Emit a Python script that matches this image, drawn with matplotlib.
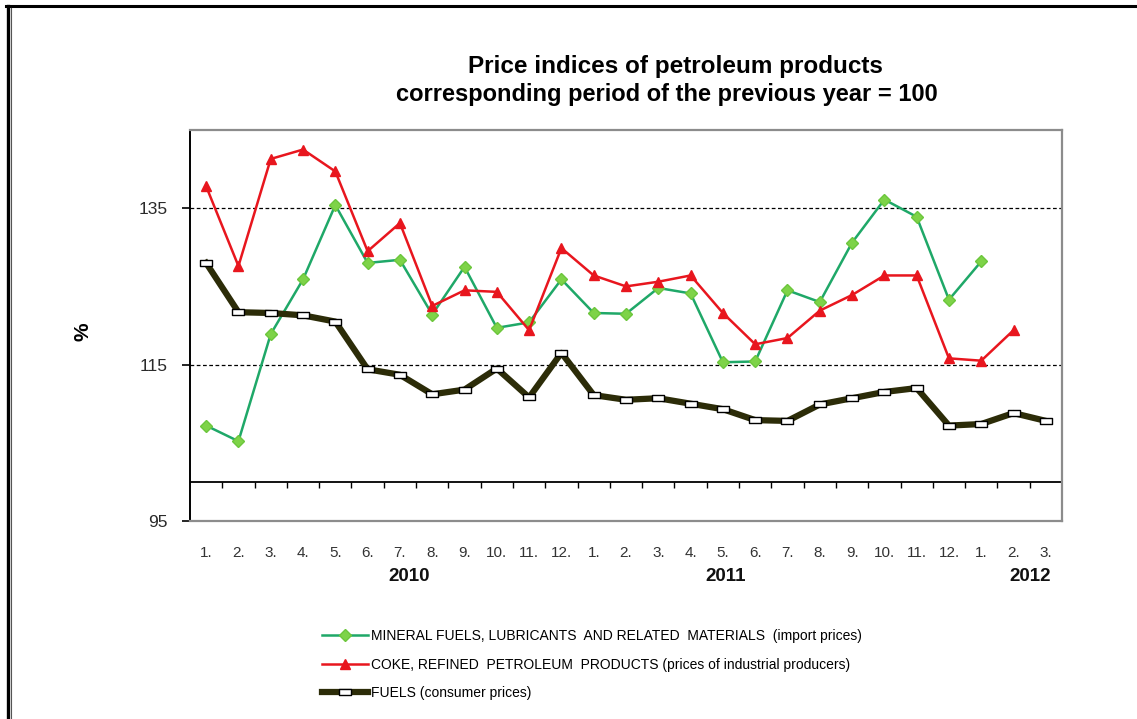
import numpy as np
import matplotlib
matplotlib.use("Agg")
import matplotlib.pyplot as plt
from matplotlib import font_manager
from matplotlib.path import Path
from matplotlib.lines import Line2D

# fonts
names = {f.name for f in font_manager.fontManager.ttflist}
NARROW = 'Liberation Sans Narrow' if 'Liberation Sans Narrow' in names else 'Liberation Sans'
plt.rcParams['font.family'] = ['Liberation Sans', 'DejaVu Sans']

########################### data ###########################
months = ['1.', '2.', '3.', '4.', '5.', '6.', '7.', '8.', '9.', '10.', '11.', '12.',
          '1.', '2.', '3.', '4.', '5.', '6.', '7.', '8.', '9.', '10.', '11.', '12.',
          '1.', '2.', '3.']
years = ['2010', '2011', '2012']
year_pos = [6.3, 16.1, 25.5]

mineral = [107.2, 105.2, 118.9, 125.9, 135.4, 128.0, 128.4, 121.4, 127.5, 119.7, 120.4, 125.9,
           121.6, 121.5, 124.8, 124.1, 115.3, 115.4, 124.5, 123.0, 130.6, 136.1, 133.9, 123.3,
           128.2, np.nan, np.nan]
coke = [137.8, 127.6, 141.3, 142.5, 139.7, 129.5, 133.1, 122.5, 124.5, 124.3, 119.4, 129.9,
        126.4, 125.0, 125.6, 126.4, 121.6, 117.6, 118.4, 121.9, 123.9, 126.4, 126.4, 115.8,
        115.5, 119.4, np.nan]
fuels = [128.0, 121.7, 121.6, 121.3, 120.5, 114.4, 113.7, 111.2, 111.8, 114.5, 110.8, 116.5,
         111.1, 110.5, 110.7, 110.0, 109.3, 107.9, 107.8, 109.9, 110.7, 111.5, 112.0, 107.2,
         107.4, 108.8, 107.8]

labels = ['MINERAL FUELS, LUBRICANTS  AND RELATED  MATERIALS  (import prices)',
          'COKE, REFINED  PETROLEUM  PRODUCTS (prices of industrial producers)',
          'FUELS (consumer prices)']

########################### plot ###########################
W, H = 1137, 719
fig = plt.figure(figsize=(W / 100, H / 100), dpi=100)
ax = fig.add_axes([190 / W, 1 - 521 / H, 872 / W, 391 / H])

x = np.arange(len(months))
rect = Path([(-1, -0.55), (1, -0.55), (1, 0.55), (-1, 0.55), (-1, -0.55)],
            [Path.MOVETO, Path.LINETO, Path.LINETO, Path.LINETO, Path.CLOSEPOLY])

ax.plot(x, mineral, color='#1fa868', lw=1.8, marker='D', ms=6,
        mfc='#7ed348', mec='#6cc63c', label=labels[0], zorder=3)
ax.plot(x, coke, color='#e8161e', lw=1.8, marker='^', ms=7,
        mfc='#e8161e', mec='#e8161e', label=labels[1], zorder=4)
ax.plot(x, fuels, color='#2c2c08', lw=4.5, marker=rect, ms=8,
        mfc='white', mec='black', mew=1, label=labels[2], zorder=5)

ax.set_xlim(-0.5, len(months) - 0.5)
ax.set_ylim(95, 145)
ax.set_yticks([95, 115, 135])
ax.tick_params(axis='y', length=6, width=1.2, pad=10, labelsize=12.5, labelcolor='#2a2a2a')
ax.set_xticks(x)
ax.set_xticklabels(months)
ax.tick_params(axis='x', length=0, pad=18, labelsize=11, labelcolor='#333333')

for v in [115, 135]:
    ax.axhline(v, color='black', lw=0.9, ls=(0, (3, 2)), zorder=1)

# category axis crossing at 100
ax.axhline(100, color='black', lw=1.3, zorder=2)
bounds = np.arange(0.5, len(months) - 0.5 + 1e-9, 1.0)
ax.plot(bounds, np.full(len(bounds), 100.0), ls='none', marker=3, ms=4,
        mew=1, color='black', zorder=2)

for s in ['top', 'right', 'bottom']:
    ax.spines[s].set_color('#8c8c8c')
    ax.spines[s].set_linewidth(1.6)
ax.spines['left'].set_color('black')
ax.spines['left'].set_linewidth(1.4)

for yr, p in zip(years, year_pos):
    ax.text(p, -0.142, yr, transform=ax.get_xaxis_transform(), ha='center', va='center',
            fontsize=13.5, fontweight='bold', color='#111111')

fig.text(83 / W, 1 - 332 / H, '%', rotation=90, ha='center', va='center',
         fontsize=15, fontweight='bold')

fig.text(675 / W, 1 - 66 / H, 'Price indices of petroleum products', ha='center', va='center',
         fontsize=17.5, fontweight='bold', family=[NARROW, 'DejaVu Sans'])
fig.text(667 / W, 1 - 95 / H, 'corresponding period of the previous year = 100', ha='center',
         va='center', fontsize=17, fontweight='bold', family=[NARROW, 'DejaVu Sans'])

fig.legend(loc='upper left', bbox_to_anchor=(322 / W, 1 - 629 / H), frameon=False,
           borderpad=0, borderaxespad=0, handlelength=3.3, handletextpad=0.2,
           labelspacing=1.05, prop={'family': [NARROW, 'DejaVu Sans'], 'size': 10})

# outer frame
fig.add_artist(Line2D([6 / W, 1], [1 - 6 / H, 1 - 6 / H], transform=fig.transFigure,
                      color='black', lw=2.2))
fig.add_artist(Line2D([7.5 / W, 7.5 / W], [0, 1 - 6 / H], transform=fig.transFigure,
                      color='black', lw=2.4))
fig.add_artist(Line2D([10.5 / W, 10.5 / W], [0, 1 - 8 / H], transform=fig.transFigure,
                      color='#555555', lw=0.8))

fig.savefig('out.png', dpi=100)
